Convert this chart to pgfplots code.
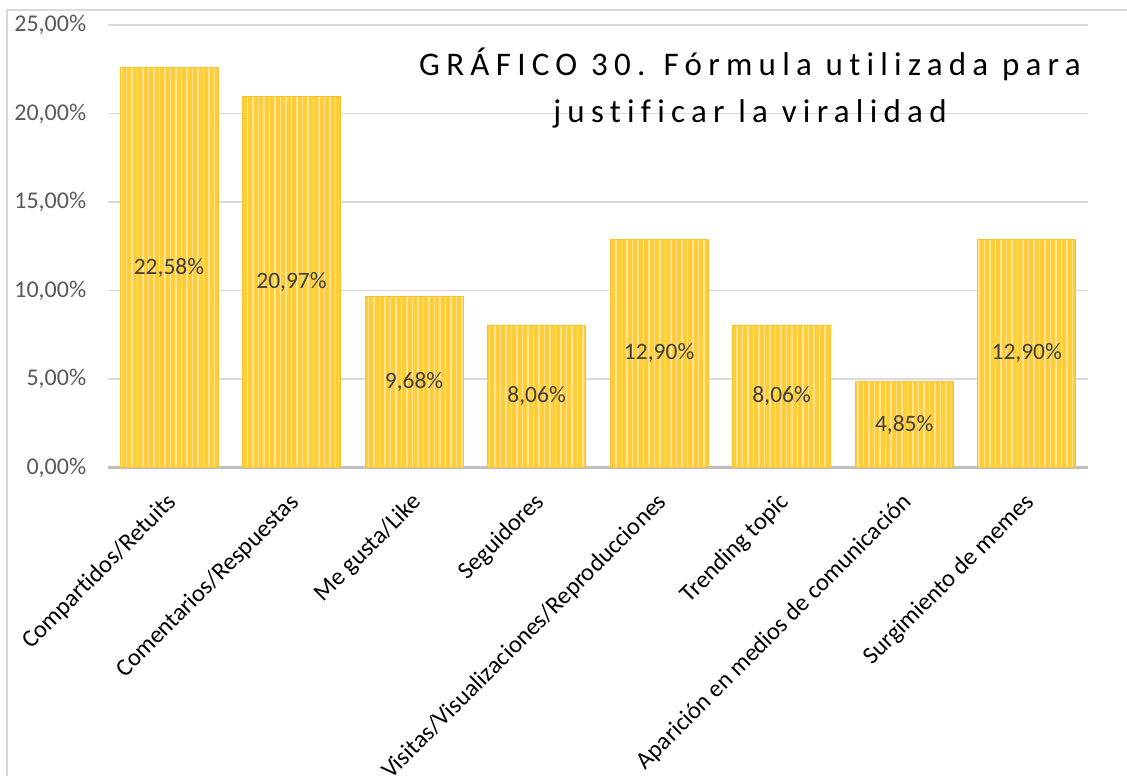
\documentclass[border=0pt]{standalone}
\usepackage{fontspec}
\setmainfont{Carlito}
\usepackage{pgfplots}
\usepackage{pgfplotstable}
\pgfplotsset{compat=1.18}
\usetikzlibrary{patterns.meta}
\definecolor{barc}{HTML}{FFCD38}
\definecolor{stripe}{HTML}{FFE494}
\definecolor{baredge}{HTML}{F5C230}
\definecolor{gridc}{HTML}{D9D9D9}
\definecolor{axisc}{HTML}{BFBFBF}
\definecolor{tickc}{HTML}{595959}
\definecolor{labc}{HTML}{404040}
\pgfplotstableread{
x y
0 22.58
1 20.97
2 9.68
3 8.06
4 12.90
5 8.06
6 4.85
7 12.90
}\datatable
\begin{document}
\begin{tikzpicture}[x=1pt,y=1pt]
\useasboundingbox (0,0) rectangle (1127,776);
\draw[color=gridc, line width=1.5pt] (7,0) -- (7,766) -- (1127,766);
\begin{axis}[
  at={(107.7pt,308.3pt)}, anchor=south west,
  scale only axis, width=980.3pt, height=442.7pt,
  xmin=-0.5, xmax=7.5, ymin=0, ymax=25,
  ytick={0,5,10,15,20,25},
  xtick=data,
  xticklabels={Compartidos/Retuits,Comentarios/Respuestas,Me gusta/Like,Seguidores,Visitas/Visualizaciones/Reproducciones,Trending topic,Aparición en medios de comunicación,Surgimiento de memes},
  axis x line=bottom, axis y line=left,
  axis line style={-},
  x axis line style={color=axisc, line width=2.5pt},
  y axis line style={draw=none},
  major tick length=0,
  ymajorgrids, grid style={color=gridc, line width=1.5pt},
  /pgf/number format/assume math mode=true,
  yticklabel={\pgfmathprintnumber[fixed, fixed zerofill, precision=2, use comma]{\tick}\%},
  yticklabel style={font=\fontsize{24}{28}\selectfont, color=tickc, anchor=east, xshift=-18pt},
  xticklabel style={font=\fontsize{24.5}{28}\selectfont\addfontfeatures{Ligatures=NoCommon}, color=black, rotate=45, anchor=north east, inner sep=0pt, xshift=-19pt, yshift=-14pt},
  clip=false,
]
\addplot[ybar, bar width=0.8, fill=barc, draw=baredge, line width=0.8pt,
  postaction={pattern={Lines[angle=90,distance=5.5pt,line width=1.6pt]}, pattern color=stripe}]
  table[x=x, y=y] {\datatable};
\addplot[draw=none, mark=none, nodes near coords, point meta=explicit,
  nodes near coords={\pgfmathprintnumber[fixed, fixed zerofill, precision=2, use comma, assume math mode=true]{\pgfplotspointmeta}\%},
  every node near coord/.append style={anchor=center, font=\fontsize{23.5}{27}\selectfont, color=labc}]
  table[x=x, y expr=\thisrow{y}/2, meta=y] {\datatable};
\end{axis}
\node[font=\fontsize{33}{47}\selectfont\addfontfeatures{LetterSpace=19,Ligatures=NoCommon}, align=center, color=black] at (750,688) {GRÁFICO 30. Fórmula utilizada para\\justificar la viralidad};
\end{tikzpicture}
\end{document}
